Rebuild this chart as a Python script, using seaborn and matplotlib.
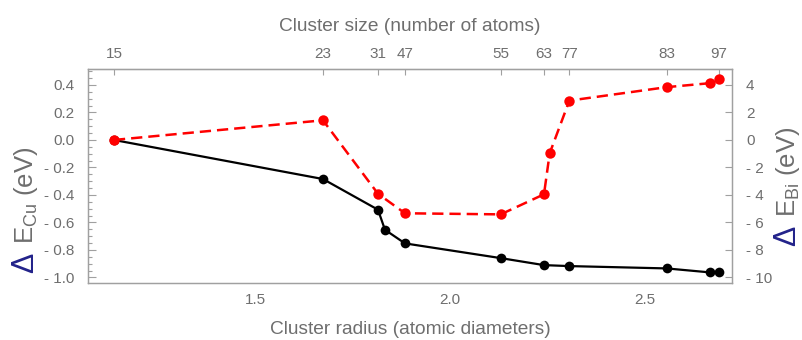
import matplotlib
matplotlib.use("Agg")
import matplotlib.pyplot as plt
from matplotlib.ticker import FixedLocator, MultipleLocator, FuncFormatter
import seaborn as sns

# cluster radius (atomic diameters) for each computed cluster
radius_cu = [1.1385, 1.6744, 1.8154, 1.8333, 1.8846, 2.130, 2.241, 2.306, 2.5556, 2.6667, 2.689]
dE_cu = [0.0, -0.284, -0.507, -0.653, -0.752, -0.859, -0.910, -0.917, -0.934, -0.963, -0.958]

radius_bi = [1.1385, 1.6744, 1.8154, 1.8846, 2.130, 2.241, 2.2556, 2.306, 2.5556, 2.6667, 2.689]
dE_bi = [0.0, 1.43, -3.91, -5.33, -5.41, -3.95, -0.97, 2.86, 3.84, 4.13, 4.42]

# top axis: cluster size (number of atoms)
size_radius = [1.1385, 1.6744, 1.8154, 1.8846, 2.130, 2.241, 2.306, 2.5556, 2.689]
size_labels = ["15", "23", "31", "47", "55", "63", "77", "83", "97"]

GRAY = "#6e6e6e"
FRAME = "#a0a0a0"
BLUE = "#22228a"

sns.set_style("white")
plt.rcParams["font.family"] = ["Liberation Sans", "DejaVu Sans"]
plt.rcParams["mathtext.fontset"] = "custom"
plt.rcParams["mathtext.rm"] = "Liberation Sans"

fig = plt.figure(figsize=(8.03, 3.40), dpi=100)
ax = fig.add_axes([88 / 803, 1 - 283 / 340, (732 - 88) / 803, (283 - 69) / 340])

sns.lineplot(x=radius_cu, y=dE_cu, ax=ax, color="black", lw=1.6, marker="o",
             markersize=7, markeredgecolor="black", markeredgewidth=0)

ax2 = ax.twinx()
sns.lineplot(x=radius_bi, y=dE_bi, ax=ax2, color="red", lw=1.8, marker="o",
             markersize=7.5, markeredgecolor="red", markeredgewidth=0,
             linestyle=(0, (4.5, 2.4)))

ax.set_xlim(1.072, 2.723)
ax.set_ylim(-1.04, 0.516)
ax2.set_ylim(-10.4, 5.16)


def minus_fmt(digits):
    def f(v, _):
        if abs(v) < 1e-9:
            return f"{0:.{digits}f}"
        s = f"{abs(v):.{digits}f}"
        return f"- {s}" if v < 0 else s
    return FuncFormatter(f)


ax.xaxis.set_major_locator(FixedLocator([1.5, 2.0, 2.5]))
ax.xaxis.set_minor_locator(MultipleLocator(0.1))
ax.xaxis.set_major_formatter(FuncFormatter(lambda v, _: f"{v:.1f}"))
ax.yaxis.set_major_locator(MultipleLocator(0.2))
ax.yaxis.set_minor_locator(MultipleLocator(0.05))
ax.yaxis.set_major_formatter(minus_fmt(1))
ax2.yaxis.set_major_locator(MultipleLocator(2))
ax2.yaxis.set_major_formatter(minus_fmt(0))

ax.tick_params(axis="both", which="major", direction="in", length=6, width=0.8,
               color=FRAME, labelcolor=GRAY, labelsize=11, pad=10)
ax.tick_params(axis="both", which="minor", direction="in", length=3, width=0.8, color=FRAME)
ax.tick_params(axis="x", which="major", pad=7)
ax.tick_params(axis="y", which="both", right=False)
ax.tick_params(axis="x", which="both", top=False)
ax2.tick_params(axis="y", which="major", direction="in", length=5, width=0.8,
                color=FRAME, labelcolor=GRAY, labelsize=11, pad=10)

top = ax.secondary_xaxis("top")
top.set_xticks(size_radius, labels=size_labels)
top.tick_params(direction="in", length=4, width=0.8, color=FRAME,
                labelcolor=GRAY, labelsize=11, pad=6)
top.set_xlabel("Cluster size (number of atoms)", color=GRAY, fontsize=13.8, labelpad=11)
ax.set_xlabel("Cluster radius (atomic diameters)", color=GRAY, fontsize=13.8, labelpad=10)
ax.set_ylabel("")
ax2.set_ylabel("")

for a in (ax, ax2):
    for s in a.spines.values():
        s.set_color(FRAME)
        s.set_linewidth(0.9)
for s in top.spines.values():
    s.set_color(FRAME)

# y labels: blue delta followed by gray text, rotated
fig.canvas.draw()
renderer = fig.canvas.get_renderer()
H = 340.0


def ylabel(xpx, ybottom, sub):
    d = fig.text(xpx / 803, 1 - ybottom / H, "\u0394", rotation=90, rotation_mode="anchor",
                 ha="left", va="baseline", color=BLUE, fontsize=22)
    bb = d.get_window_extent(renderer)
    fig.text(xpx / 803, (bb.y1 + 9) / H, r"$\mathregular{E_{%s}}$ (eV)" % sub, rotation=90,
             rotation_mode="anchor", ha="left", va="baseline", color=GRAY, fontsize=18.5)


ylabel(33, 273, "Cu")
ylabel(795, 246, "Bi")

fig.savefig("out.png", dpi=100)
